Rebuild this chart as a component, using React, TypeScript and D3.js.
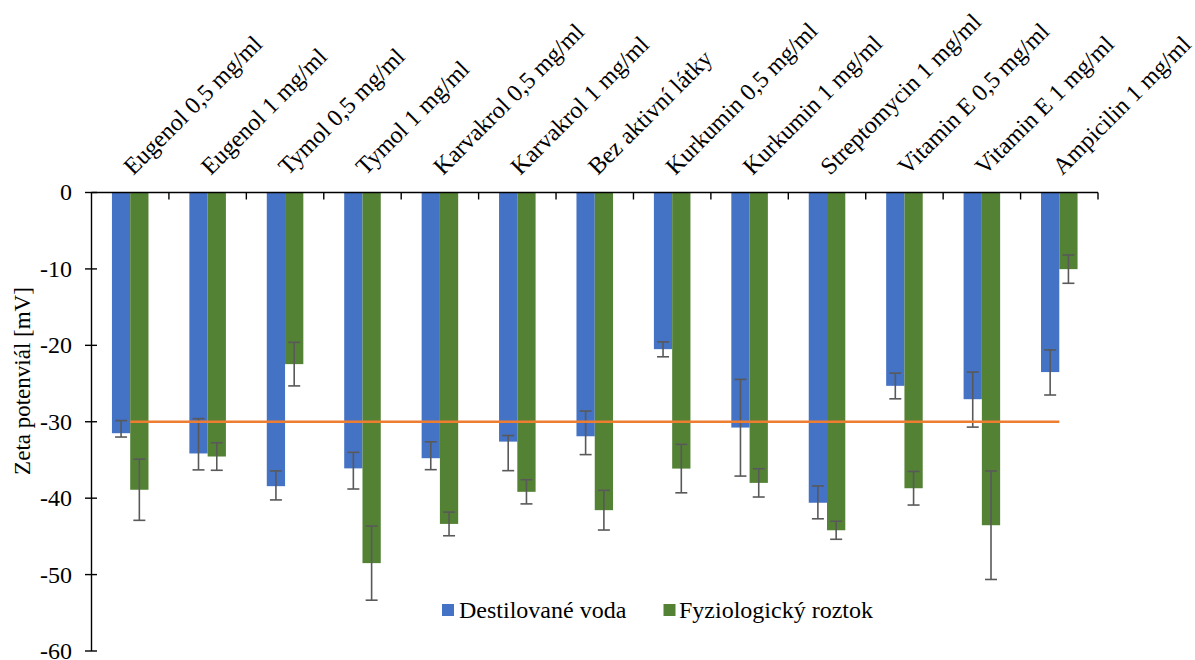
import React from "react";
import * as d3 from "d3";

const categories = [
  "Eugenol 0,5 mg/ml",
  "Eugenol 1 mg/ml",
  "Tymol 0,5 mg/ml",
  "Tymol 1 mg/ml",
  "Karvakrol 0,5 mg/ml",
  "Karvakrol 1 mg/ml",
  "Bez aktivní látky",
  "Kurkumin 0,5 mg/ml",
  "Kurkumin 1 mg/ml",
  "Streptomycin 1 mg/ml",
  "Vitamin E 0,5 mg/ml",
  "Vitamin E 1 mg/ml",
  "Ampicilin 1 mg/ml",
];

const seriesNames = ["Destilované voda", "Fyziologický roztok"];

const destilovana = [-31.5, -34.15, -38.43, -36.1, -34.77, -32.6, -31.9, -20.5, -30.76, -40.6, -25.3, -27.05, -23.5];
// error toward zero / away from zero
const destErrUp = [1.65, 4.55, 2.0, 2.1, 2.15, 0.8, 3.3, 0.95, 6.3, 2.2, 1.66, 3.55, 2.9];
const destErrDown = [0.5, 2.15, 1.8, 2.7, 1.5, 3.8, 2.4, 1.0, 6.35, 2.1, 1.7, 3.65, 3.0];

const fyziologicky = [-38.9, -34.55, -22.46, -48.5, -43.37, -39.17, -41.57, -36.13, -38.0, -44.2, -38.7, -43.54, -10.03];
const fyzErr = [4.0, 1.8, 2.85, 4.85, 1.55, 1.58, 2.6, 3.17, 1.85, 1.18, 2.2, 7.1, 1.85];

const threshold = -30;
const yTicks = [0, -10, -20, -30, -40, -50, -60];

const W = 1195;
const H = 660;
const FONT = '"Liberation Serif", "Times New Roman", serif';

export default function App() {
  const x = d3.scaleBand<string>().domain(categories).range([91.5, 1098]).paddingInner(0).paddingOuter(0);
  const y = d3.scaleLinear().domain([-60, 0]).range([651, 192.5]);
  const bw = x.bandwidth();
  const barW = bw * 0.236;
  const axisY = y(0);

  const series = [
    { name: seriesNames[0], color: "#4472C4", values: destilovana, up: destErrUp, down: destErrDown, off: -barW },
    { name: seriesNames[1], color: "#548235", values: fyziologicky, up: fyzErr, down: fyzErr, off: 0 },
  ];

  const cx = (c: string) => (x(c) as number) + bw / 2;

  return (
    <svg width={W} height={H} style={{ position: "absolute", left: 0, top: 0, background: "#fff" }} fontFamily={FONT}>
      {/* bars */}
      {series.map((s) =>
        categories.map((c, i) => {
          const v = s.values[i];
          return (
            <rect
              key={s.name + c}
              x={cx(c) + s.off}
              y={y(0)}
              width={barW}
              height={y(v) - y(0)}
              fill={s.color}
            />
          );
        })
      )}
      {/* error bars */}
      {series.map((s) =>
        categories.map((c, i) => {
          const v = s.values[i];
          const ex = cx(c) + s.off + barW / 2;
          const y1 = y(v + s.up[i]);
          const y2 = y(v - s.down[i]);
          return (
            <g key={"e" + s.name + c} stroke="#595959" strokeWidth={1.6}>
              <line x1={ex} x2={ex} y1={y1} y2={y2} />
              <line x1={ex - 6} x2={ex + 6} y1={y1} y2={y1} />
              <line x1={ex - 6} x2={ex + 6} y1={y2} y2={y2} />
            </g>
          );
        })
      )}
      {/* threshold line */}
      <line
        x1={cx(categories[0])}
        x2={cx(categories[categories.length - 1])}
        y1={y(threshold)}
        y2={y(threshold)}
        stroke="#ED7D31"
        strokeWidth={2.5}
      />
      {/* y axis */}
      <line x1={91.5} x2={91.5} y1={y(0)} y2={y(-60)} stroke="#000" strokeWidth={1.4} />
      {yTicks.map((t) => (
        <g key={"yt" + t}>
          <line x1={85} x2={97} y1={y(t)} y2={y(t)} stroke="#000" strokeWidth={1.4} />
          <text x={72} y={y(t)} dy="0.33em" textAnchor="end" fontSize={24} fill="#000">
            {t}
          </text>
        </g>
      ))}
      {/* x axis at top */}
      <line x1={91.5} x2={1098} y1={axisY} y2={axisY} stroke="#000" strokeWidth={1.4} />
      {categories.map((c) => (
        <line key={"xt" + c} x1={(x(c) as number) + bw} x2={(x(c) as number) + bw} y1={axisY} y2={axisY + 7} stroke="#000" strokeWidth={1.4} />
      ))}
      {categories.map((c) => (
        <text
          key={"xl" + c}
          transform={`translate(${cx(c) + 3},${176}) rotate(-45)`}
          fontSize={24}
          fill="#000"
        >
          {c}
        </text>
      ))}
      {/* y title */}
      <text transform={`translate(30,381) rotate(-90)`} textAnchor="middle" fontSize={23} fill="#000">
        Zeta potenviál [mV]
      </text>
      {/* legend */}
      <rect x={442} y={604} width={12} height={12} fill={series[0].color} />
      <text x={459} y={618} fontSize={24} fill="#000">{series[0].name}</text>
      <rect x={663.5} y={604} width={12} height={12} fill={series[1].color} />
      <text x={679} y={618} fontSize={24} fill="#000">{series[1].name}</text>
    </svg>
  );
}
